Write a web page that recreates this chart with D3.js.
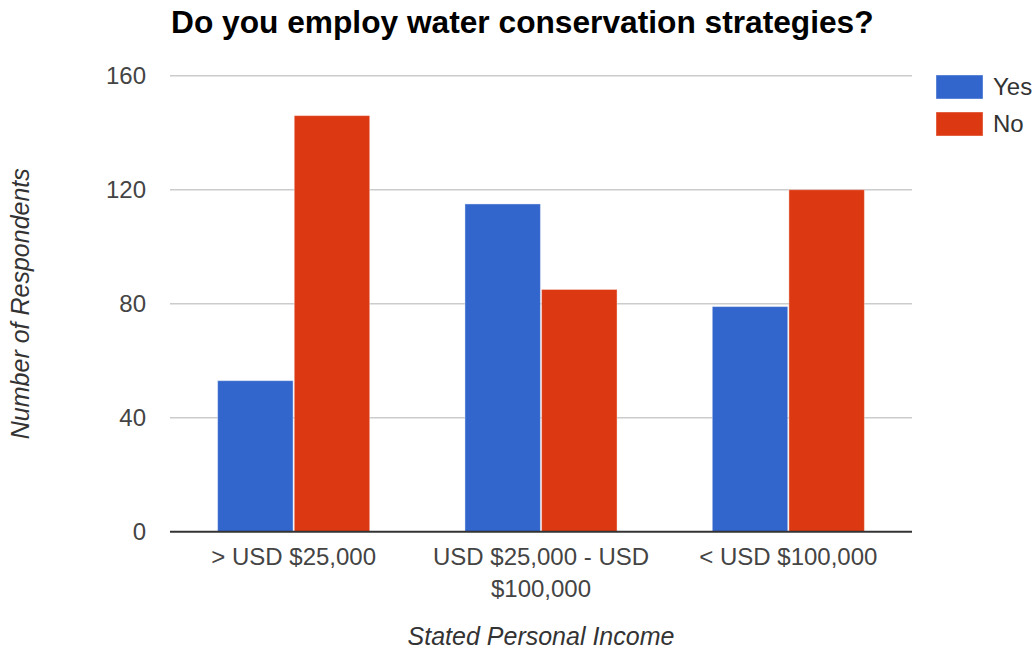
<!DOCTYPE html>
<html>
<head>
<meta charset="utf-8">
<script src="https://cdn.jsdelivr.net/npm/d3@7"></script>
<style>
  html, body { margin: 0; padding: 0; background: #fff; }
  svg { display: block; font-family: Arial, "Liberation Sans", sans-serif; }
</style>
</head>
<body>
<script>
const WIDTH = 1036
const HEIGHT = 652

const categories = ['> USD $25,000', 'USD $25,000 - USD $100,000', '< USD $100,000']
const seriesNames = ['Yes', 'No']
const yesValues = [53, 115, 79]
const noValues = [146, 85, 120]
const yTicks = [0, 40, 80, 120, 160]

const COLORS = ['#3366cc', '#dc3912']

const margin = { top: 75.7, right: 124, bottom: 120.3, left: 170 }

const rows = categories.map((c, i) => ({ category: c, values: [yesValues[i], noValues[i]] }))

const svg = d3.select('body').append('svg')
  .attr('width', WIDTH)
  .attr('height', HEIGHT)

const x0 = d3.scaleBand()
  .domain(categories)
  .range([margin.left, WIDTH - margin.right])
  .paddingInner(0.385)
  .paddingOuter(0.1925)

const x1 = d3.scaleBand()
  .domain(seriesNames)
  .range([0, x0.bandwidth()])
  .paddingInner(0.015)

const y = d3.scaleLinear()
  .domain([0, 160])
  .range([HEIGHT - margin.bottom, margin.top])

// gridlines
svg.append('g')
  .selectAll('line')
  .data(yTicks.slice(1))
  .join('line')
  .attr('x1', margin.left)
  .attr('x2', WIDTH - margin.right)
  .attr('y1', d => y(d))
  .attr('y2', d => y(d))
  .attr('stroke', '#cccccc')
  .attr('stroke-width', 1.5)

// y tick labels
const yAxis = svg.append('g')
  .attr('transform', `translate(${margin.left - 24},0)`)
  .call(d3.axisLeft(y).tickValues(yTicks).tickSize(0).tickPadding(0))
yAxis.select('.domain').remove()
yAxis.selectAll('text')
  .attr('font-size', 24)
  .attr('fill', '#444')
  .attr('font-family', 'Arial, "Liberation Sans", sans-serif')

// bars
svg.append('g')
  .selectAll('g')
  .data(rows)
  .join('g')
  .attr('transform', d => `translate(${x0(d.category)},0)`)
  .selectAll('rect')
  .data(d => d.values.map((v, i) => ({ key: seriesNames[i], value: v, i })))
  .join('rect')
  .attr('x', d => x1(d.key))
  .attr('y', d => y(d.value))
  .attr('width', x1.bandwidth())
  .attr('height', d => y(0) - y(d.value))
  .attr('fill', d => COLORS[d.i])
  .attr('stroke', '#ffffff')
  .attr('stroke-opacity', 0.4)
  .attr('stroke-width', 1)

// baseline
svg.append('line')
  .attr('x1', margin.left)
  .attr('x2', WIDTH - margin.right)
  .attr('y1', y(0))
  .attr('y2', y(0))
  .attr('stroke', '#333')
  .attr('stroke-width', 2)

// x category labels
const xAxis = svg.append('g')
  .attr('transform', `translate(0,${y(0)})`)
  .call(d3.axisBottom(x0).tickSize(0).tickPadding(0))
xAxis.select('.domain').remove()
xAxis.selectAll('text')
  .attr('font-size', 24)
  .attr('fill', '#444')
  .attr('font-family', 'Arial, "Liberation Sans", sans-serif')
  .attr('y', 33)
  .attr('dy', 0)
  .call(wrap, x0.step() - 10)

function wrap(texts, width) {
  texts.each(function () {
    const text = d3.select(this)
    const words = text.text().split(/\s+/)
    const yy = text.attr('y')
    text.text(null)
    let line = []
    let lineNo = 0
    let tspan = text.append('tspan').attr('x', 0).attr('y', yy)
    for (const w of words) {
      line.push(w)
      tspan.text(line.join(' '))
      if (tspan.node().getComputedTextLength() > width && line.length > 1) {
        line.pop()
        tspan.text(line.join(' '))
        line = [w]
        lineNo++
        tspan = text.append('tspan').attr('x', 0).attr('y', +yy + lineNo * 32).text(w)
      }
    }
  })
}

// title
svg.append('text')
  .attr('x', 171)
  .attr('y', 33)
  .attr('font-size', 31.7)
  .attr('font-weight', 'bold')
  .attr('fill', '#000')
  .text('Do you employ water conservation strategies?')

// axis titles
svg.append('text')
  .attr('x', (margin.left + WIDTH - margin.right) / 2)
  .attr('y', 645)
  .attr('text-anchor', 'middle')
  .attr('font-size', 25)
  .attr('font-style', 'italic')
  .attr('fill', '#333')
  .text('Stated Personal Income')

svg.append('text')
  .attr('transform', `translate(29,${(y(0) + y(160)) / 2}) rotate(-90)`)
  .attr('text-anchor', 'middle')
  .attr('font-size', 25)
  .attr('font-style', 'italic')
  .attr('fill', '#333')
  .text('Number of Respondents')

// legend
const legend = svg.append('g')
  .selectAll('g')
  .data(seriesNames)
  .join('g')
  .attr('transform', (d, i) => `translate(936,${75 + i * 37})`)

legend.append('rect')
  .attr('width', 47)
  .attr('height', 24)
  .attr('fill', (d, i) => COLORS[i])
  .attr('stroke', '#ffffff')
  .attr('stroke-opacity', 0.4)

legend.append('text')
  .attr('x', 57)
  .attr('y', 12)
  .attr('dy', '0.35em')
  .attr('font-size', 24)
  .attr('fill', '#333')
  .text(d => d)
</script>
</body>
</html>
